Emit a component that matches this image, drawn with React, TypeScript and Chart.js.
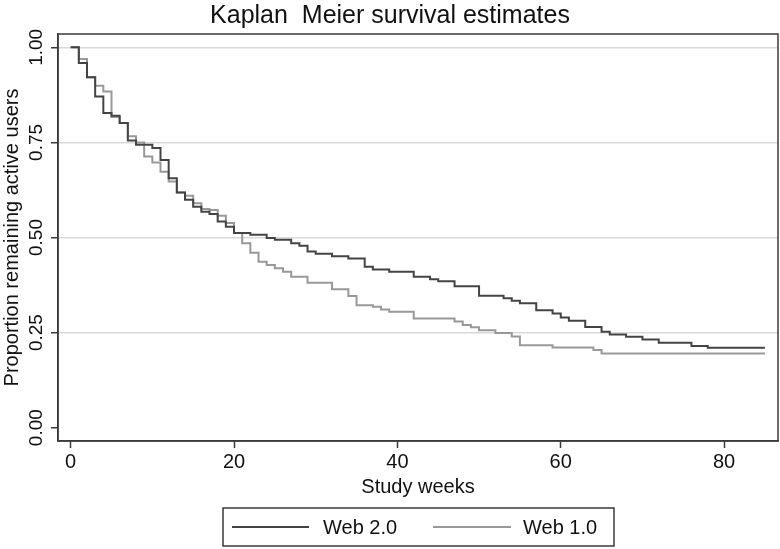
import React, { useEffect, useRef } from "react";
import { Chart, registerables } from "chart.js";

Chart.register(...registerables);

// ---- data ----
const web2Weeks = [0, 1, 2, 3, 4, 5, 6, 7, 8, 10, 11, 12, 13, 14, 15, 16, 17, 18, 19, 20, 22, 24, 25, 27, 28, 29, 30, 32, 34, 36, 37, 39, 42, 44, 45, 47, 50, 53, 54, 55, 57, 59, 60, 61, 63, 65, 66, 68, 70, 72, 76, 78, 85];
const web2Survival = [1.0, 0.959, 0.921, 0.871, 0.827, 0.82, 0.801, 0.755, 0.744, 0.735, 0.704, 0.656, 0.618, 0.599, 0.581, 0.568, 0.562, 0.542, 0.528, 0.512, 0.507, 0.499, 0.494, 0.485, 0.478, 0.463, 0.457, 0.451, 0.445, 0.423, 0.416, 0.41, 0.397, 0.39, 0.385, 0.372, 0.347, 0.34, 0.334, 0.327, 0.309, 0.3, 0.29, 0.281, 0.265, 0.252, 0.245, 0.239, 0.232, 0.223, 0.215, 0.21, 0.21];

const web1Weeks = [0, 1, 2, 3, 4, 5, 6, 7, 8, 9, 10, 11, 12, 13, 14, 15, 16, 17, 18, 19, 20, 21, 22, 23, 24, 25, 26, 27, 29, 32, 34, 35, 37, 38, 39, 42, 47, 48, 49, 50, 52, 54, 55, 59, 64, 65, 85];
const web1Survival = [1.0, 0.969, 0.921, 0.899, 0.884, 0.817, 0.801, 0.766, 0.75, 0.713, 0.697, 0.673, 0.647, 0.618, 0.61, 0.59, 0.575, 0.572, 0.557, 0.538, 0.512, 0.485, 0.46, 0.436, 0.428, 0.419, 0.41, 0.397, 0.381, 0.364, 0.346, 0.322, 0.318, 0.311, 0.305, 0.287, 0.279, 0.27, 0.264, 0.256, 0.249, 0.24, 0.217, 0.211, 0.204, 0.195, 0.195];

const seriesLabels = ["Web 2.0", "Web 1.0"];
const seriesColors = ["#444444", "#999999"];
const xTickValues = [0, 20, 40, 60, 80];
const yTickValues = [0, 0.25, 0.5, 0.75, 1];
const titleText = "Kaplan  Meier survival estimates";
const xTitleText = "Study weeks";
const yTitleText = "Proportion remaining active users";

const FONT = '"Liberation Sans", Arial, Helvetica, sans-serif';
const FRAME = "#3a3a3a";

const textPlugin = {
  id: "stataText",
  afterDatasetsDraw(chart: any) {
    const { ctx, chartArea } = chart;
    ctx.save();
    ctx.strokeStyle = FRAME;
    ctx.lineWidth = 1.5;
    ctx.strokeRect(chartArea.left, chartArea.top, chartArea.right - chartArea.left, chartArea.bottom - chartArea.top);
    ctx.restore();
  },
  afterDraw(chart: any) {
    const { ctx, chartArea } = chart;
    const yScale = chart.scales.y;
    const midX = (chartArea.left + chartArea.right) / 2;
    const midY = (chartArea.top + chartArea.bottom) / 2;
    ctx.save();
    ctx.fillStyle = "#111";
    // title
    ctx.font = `25px ${FONT}`;
    ctx.textAlign = "center";
    ctx.textBaseline = "middle";
    ctx.fillText(titleText, chart.width / 2, 16);
    // y tick labels (rotated)
    ctx.font = `19px ${FONT}`;
    yTickValues.forEach((v) => {
      const py = yScale.getPixelForValue(v);
      ctx.save();
      ctx.translate(37, py);
      ctx.rotate(-Math.PI / 2);
      ctx.textAlign = "center";
      ctx.textBaseline = "middle";
      ctx.fillText(v.toFixed(2), 0, 0);
      ctx.restore();
    });
    // y title
    ctx.save();
    ctx.font = `20px ${FONT}`;
    ctx.translate(12, midY);
    ctx.rotate(-Math.PI / 2);
    ctx.textAlign = "center";
    ctx.textBaseline = "middle";
    ctx.fillText(yTitleText, 0, 0);
    ctx.restore();
    // x title
    ctx.font = `20px ${FONT}`;
    ctx.textAlign = "center";
    ctx.textBaseline = "middle";
    ctx.fillText(xTitleText, midX, 487);
    // legend
    const boxW = 391;
    const boxL = Math.round(midX - boxW / 2);
    const boxT = 508;
    const boxH = 38;
    ctx.strokeStyle = FRAME;
    ctx.lineWidth = 1.5;
    ctx.strokeRect(boxL, boxT, boxW, boxH);
    const ly = boxT + boxH / 2;
    const items = [
      { x0: boxL + 9, x1: boxL + 86, tx: boxL + 100 },
      { x0: boxL + 210, x1: boxL + 288, tx: boxL + 300 },
    ];
    items.forEach((it, i) => {
      ctx.strokeStyle = seriesColors[i];
      ctx.lineWidth = 2;
      ctx.beginPath();
      ctx.moveTo(it.x0, ly);
      ctx.lineTo(it.x1, ly);
      ctx.stroke();
      ctx.fillStyle = "#111";
      ctx.font = `20px ${FONT}`;
      ctx.textAlign = "left";
      ctx.textBaseline = "middle";
      ctx.fillText(seriesLabels[i], it.tx, ly + 1);
    });
    ctx.restore();
  },
};

export default function App() {
  const canvasRef = useRef<HTMLCanvasElement | null>(null);

  useEffect(() => {
    const canvas = canvasRef.current;
    if (!canvas) return;
    const chart = new Chart(canvas, {
      type: "line",
      data: {
        datasets: [
          {
            label: seriesLabels[0],
            data: web2Weeks.map((x, i) => ({ x, y: web2Survival[i] })),
            borderColor: seriesColors[0],
            borderWidth: 2,
            stepped: "before",
            pointRadius: 0,
            fill: false,
          },
          {
            label: seriesLabels[1],
            data: web1Weeks.map((x, i) => ({ x, y: web1Survival[i] })),
            borderColor: seriesColors[1],
            borderWidth: 2,
            stepped: "before",
            pointRadius: 0,
            fill: false,
          },
        ],
      },
      options: {
        responsive: false,
        animation: false,
        layout: { padding: { top: 34, right: 2, left: 0, bottom: 0 } },
        plugins: {
          legend: { display: false },
          title: { display: false },
          tooltip: { enabled: false },
        },
        scales: {
          x: {
            type: "linear",
            min: -1.55,
            max: 86.6,
            afterBuildTicks: (s: any) => {
              s.ticks = xTickValues.map((v) => ({ value: v }));
            },
            afterFit: (s: any) => {
              s.height = 108;
            },
            grid: {
              drawOnChartArea: false,
              drawTicks: true,
              tickLength: 7,
              tickColor: FRAME,
              tickWidth: 1.5,
            },
            border: { display: true, color: FRAME, width: 1.5 },
            ticks: {
              font: { family: FONT, size: 20 },
              color: "#111",
              padding: 2,
              maxRotation: 0,
              autoSkip: false,
              callback: (v: any) => String(v),
            },
          },
          y: {
            type: "linear",
            min: -0.035,
            max: 1.035,
            afterBuildTicks: (s: any) => {
              s.ticks = yTickValues.map((v) => ({ value: v }));
            },
            afterFit: (s: any) => {
              s.width = 58;
            },
            grid: {
              color: (c: any) => (c.tick && c.tick.value === 0 ? "rgba(0,0,0,0)" : "#d9d9d9"),
              lineWidth: 1.5,
              drawTicks: true,
              tickLength: 7,
              tickColor: FRAME,
              tickWidth: 1.5,
            },
            border: { display: true, color: FRAME, width: 1.5 },
            ticks: { display: false },
          },
        },
      } as any,
      plugins: [textPlugin],
    });
    return () => chart.destroy();
  }, []);

  return (
    <div style={{ position: "fixed", left: 0, top: 0, width: 780, height: 549, background: "#fff" }}>
      <canvas ref={canvasRef} width={780} height={549} />
    </div>
  );
}
